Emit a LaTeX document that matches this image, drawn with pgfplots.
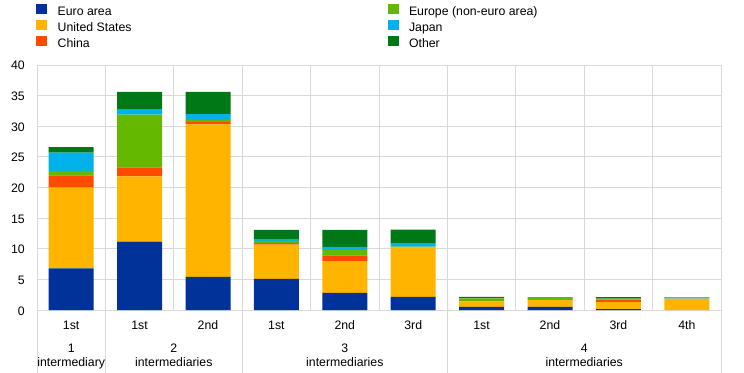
\documentclass[border=0pt]{standalone}
\usepackage{fontspec}
\setmainfont{Liberation Sans}
\usepackage{pgfplots}
\pgfplotsset{compat=1.18}
\usepackage{pgfplotstable}
\definecolor{cEA}{HTML}{003299}
\definecolor{cUS}{HTML}{FFB400}
\definecolor{cCN}{HTML}{FF4B00}
\definecolor{cEU}{HTML}{65B800}
\definecolor{cJP}{HTML}{00B1EA}
\definecolor{cOT}{HTML}{007816}
\definecolor{gridgray}{HTML}{D9D9D9}
\pgfplotstableread{
x EA US CN EU JP OT
0 6.8 13.2 2.0 0.7 3.0 0.9
1 11.15 10.65 1.5 8.6 0.9 2.8
2 5.4 24.9 0.4 0.3 1.0 3.6
3 5.08 5.6 0.25 0.35 0.3 1.5
4 2.8 5.2 0.9 0.9 0.5 2.8
5 2.13 8.1 0.05 0.05 0.6 2.2
6 0.49 0.93 0.08 0.38 0 0.27
7 0.49 1.14 0 0.38 0 0.11
8 0.16 1.14 0.38 0.16 0 0.27
9 0 1.85 0 0 0.2 0.05
}\datatable
\pgfplotsset{sqlegend/.style={legend image code/.code={\fill[##1] (0bp,-1.4bp) rectangle (11bp,8bp);}}}
\begin{document}
\begin{tikzpicture}[font=\fontsize{12.3bp}{14bp}\selectfont]
\useasboundingbox (-37bp,-63bp) rectangle (707bp,310bp);
\begin{axis}[
  at={(0,0)}, anchor=south west,
  width=684bp, height=245bp, scale only axis,
  xmin=-0.5, xmax=9.5, ymin=0, ymax=40,
  ybar stacked, bar width=45bp,
  xtick={0,...,9},
  xticklabels={1st,1st,2nd,1st,2nd,3rd,1st,2nd,3rd,4th},
  minor xtick={-0.5,0.5,...,9.5},
  xminorgrids=true, xmajorgrids=false,
  ytick={0,5,...,40}, ymajorgrids=true,
  grid style={draw=gridgray, line width=0.9bp},
  minor grid style={draw=gridgray, line width=0.9bp},
  axis line style={draw=gridgray, line width=0.9bp},
  major tick style={draw=none}, minor tick style={draw=none},
  xticklabel style={anchor=base, yshift=-19.3bp, inner sep=0pt},
  yticklabel style={anchor=base east, inner sep=0pt, xshift=-12bp, yshift=-5bp},
  /pgf/number format/assume math mode=true,
  clip=false,
  legend cell align=left,
  transpose legend, legend columns=3,
  legend style={draw=none, fill=none, at={(-0.0015,1.2478)}, anchor=north west,
    inner xsep=0pt, inner ysep=0pt, row sep=2bp,
    nodes={inner sep=0pt, text height=9bp, text depth=3bp},
    /tikz/every odd column/.append style={column sep=10.5bp},
    /tikz/every even column/.append style={column sep=256bp}},
]
\addplot[fill=cEA, draw=none, sqlegend] table[x=x,y=EA]{\datatable};
\addlegendentry{Euro area}
\addplot[fill=cUS, draw=none, sqlegend] table[x=x,y=US]{\datatable};
\addlegendentry{United States}
\addplot[fill=cCN, draw=none, sqlegend] table[x=x,y=CN]{\datatable};
\addlegendentry{China}
\addplot[fill=cEU, draw=none, sqlegend] table[x=x,y=EU]{\datatable};
\addlegendentry{Europe (non-euro area)}
\addplot[fill=cJP, draw=none, sqlegend] table[x=x,y=JP]{\datatable};
\addlegendentry{Japan}
\addplot[fill=cOT, draw=none, sqlegend] table[x=x,y=OT]{\datatable};
\addlegendentry{Other}
\draw[gridgray, line width=0.9bp] (axis cs:-0.5,0) -- ([yshift=-63bp]axis cs:-0.5,0);
\draw[gridgray, line width=0.9bp] (axis cs:0.5,0) -- ([yshift=-63bp]axis cs:0.5,0);
\draw[gridgray, line width=0.9bp] (axis cs:2.5,0) -- ([yshift=-63bp]axis cs:2.5,0);
\draw[gridgray, line width=0.9bp] (axis cs:5.5,0) -- ([yshift=-63bp]axis cs:5.5,0);
\draw[gridgray, line width=0.9bp] (axis cs:9.5,0) -- ([yshift=-63bp]axis cs:9.5,0);
\node[anchor=base, yshift=-42.3bp] at (axis cs:0,0) {1};
\node[anchor=base, yshift=-56.7bp] at (axis cs:0,0) {intermediary};
\node[anchor=base, yshift=-42.3bp] at (axis cs:1.5,0) {2};
\node[anchor=base, yshift=-56.7bp] at (axis cs:1.5,0) {intermediaries};
\node[anchor=base, yshift=-42.3bp] at (axis cs:4,0) {3};
\node[anchor=base, yshift=-56.7bp] at (axis cs:4,0) {intermediaries};
\node[anchor=base, yshift=-42.3bp] at (axis cs:7.5,0) {4};
\node[anchor=base, yshift=-56.7bp] at (axis cs:7.5,0) {intermediaries};
\end{axis}
\end{tikzpicture}
\end{document}
